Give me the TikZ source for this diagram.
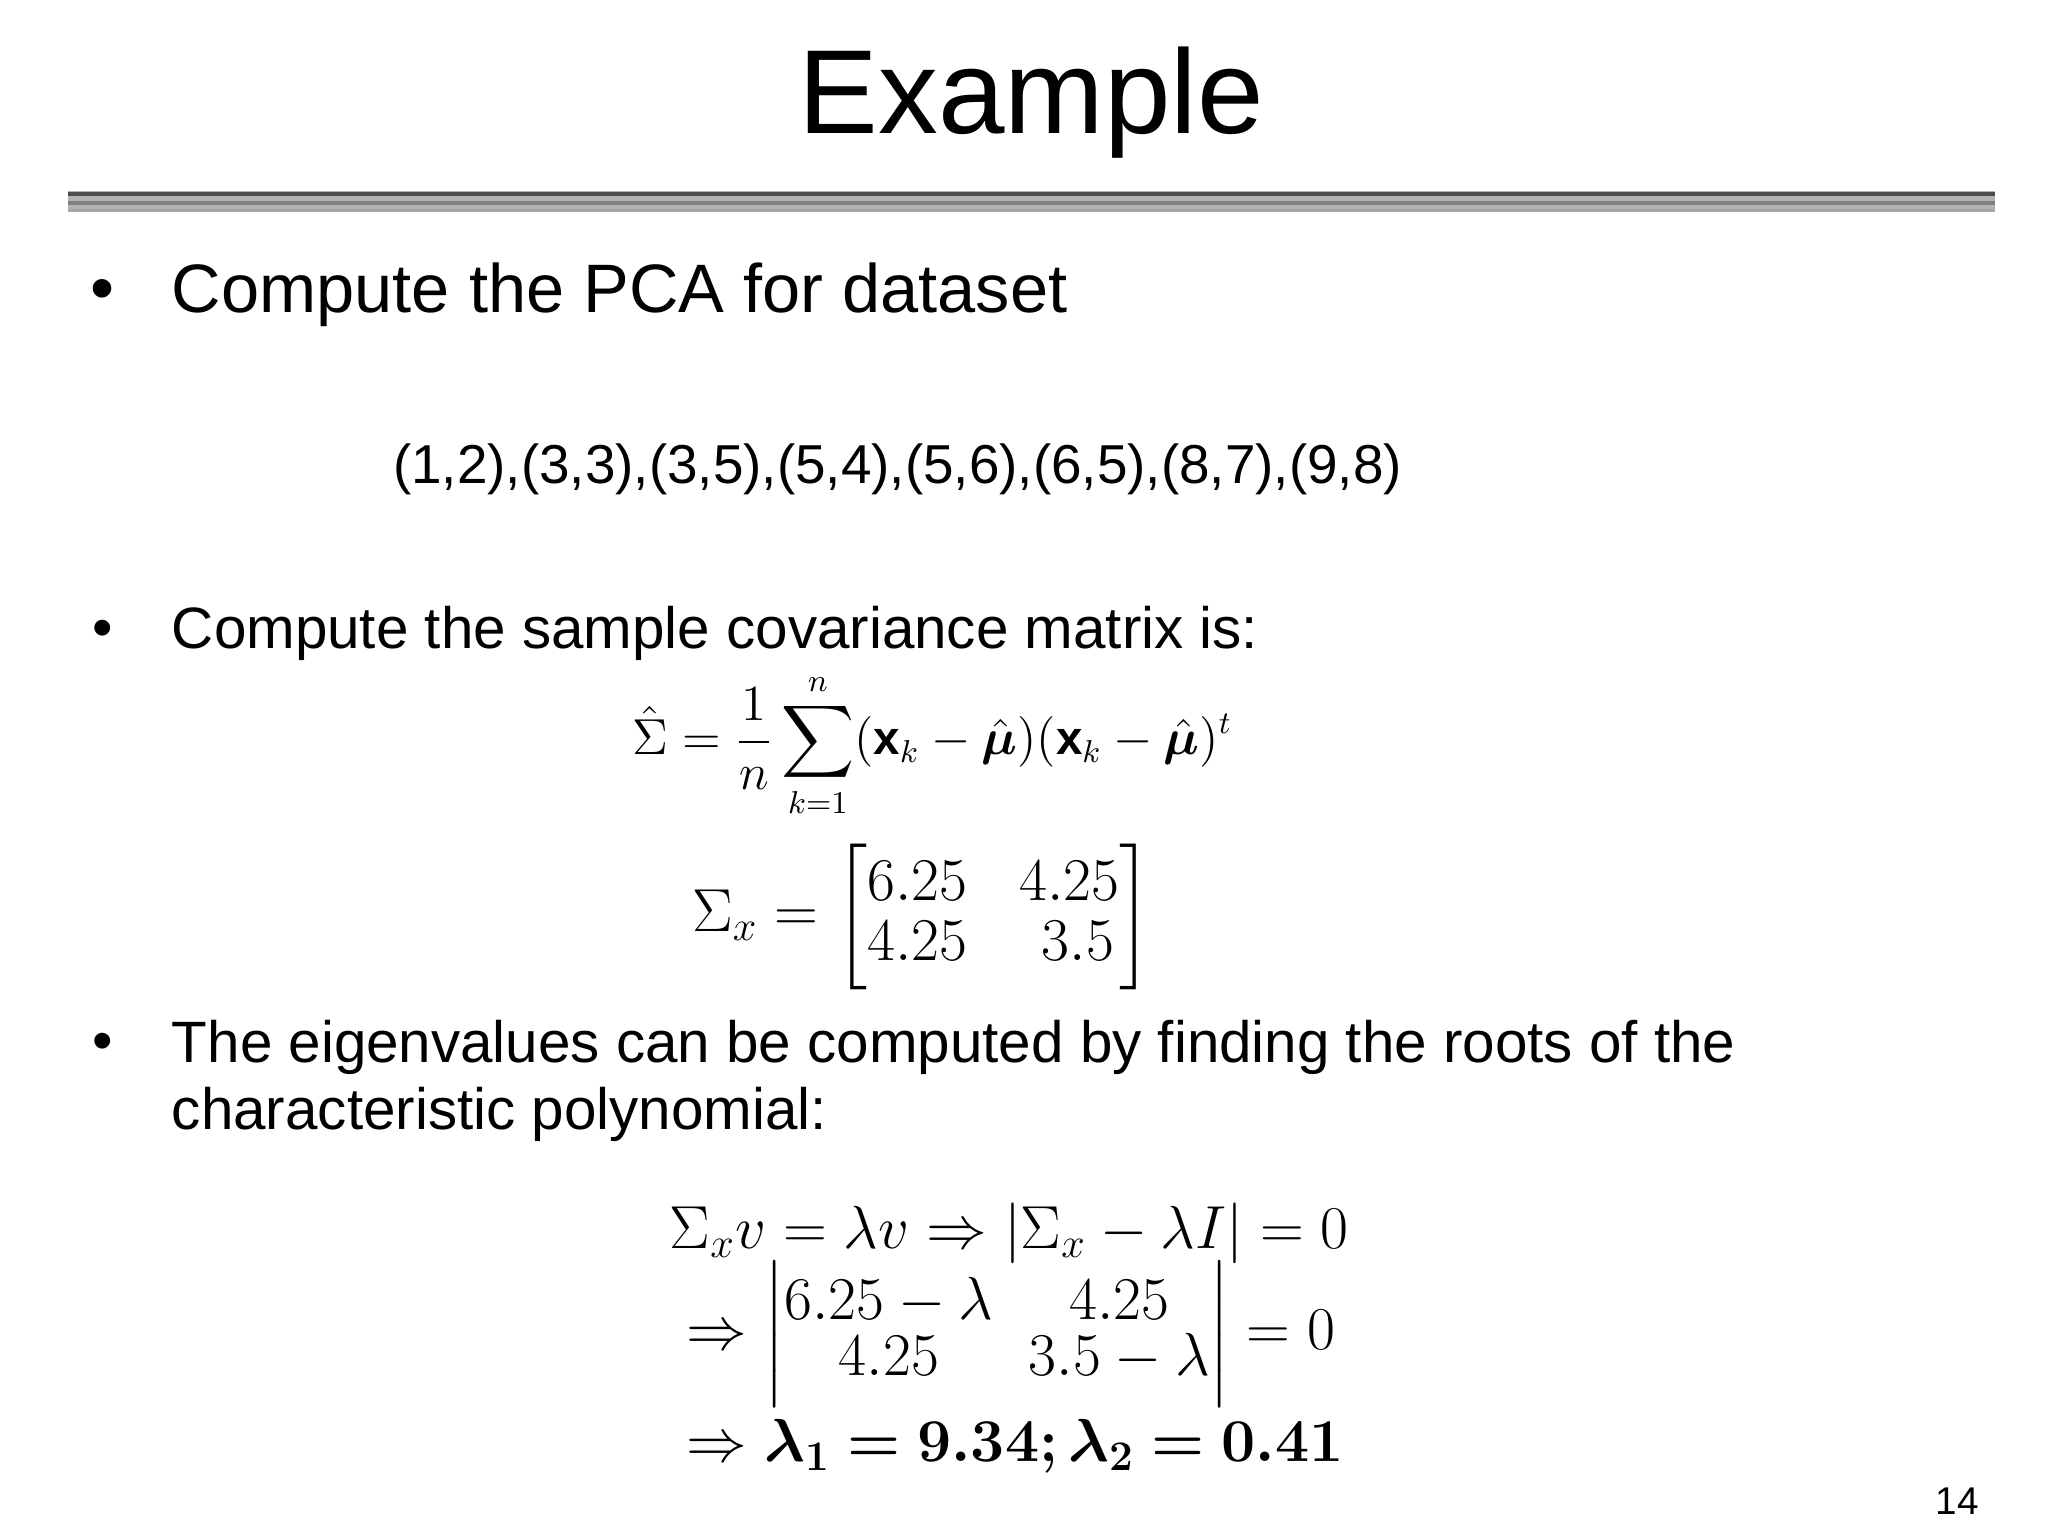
\documentclass[tikz,border=0pt]{standalone}
\usepackage{amsmath,bm}
\usepackage{fontspec}
\setmainfont{Liberation Sans}
\begin{document}
\begin{tikzpicture}[x=0.01317cm,y=-0.01317cm,
  txt/.style={anchor=west,inner sep=0pt,font=\fontsize{16.6}{20}\selectfont},
  bul/.style={inner sep=0pt,font=\fontsize{16.6}{20}\selectfont}]
\useasboundingbox[fill=white] (0,0) rectangle (1555,1166);
\node[inner sep=0pt,font=\fontsize{34}{38}\selectfont] (title) at (783,78) {Example};
\fill[gray!60] (52,145) rectangle (1515,161);
\draw[black!70,line width=1.2pt] (52,147) -- (1515,147);
\draw[black!50,line width=1pt] (52,154) -- (1515,154);
\draw[gray!70,line width=0.8pt] (52,160) -- (1515,160);
\node[bul,font=\fontsize{19.5}{23}\selectfont] (b1) at (78,224) {•};
\node[txt,font=\fontsize{19.5}{23}\selectfont] (t1) at (130,224) {Compute the PCA for dataset};
\node[txt,font=\fontsize{15.6}{19}\selectfont] (data) at (298,356) {(1,2),(3,3),(3,5),(5,4),(5,6),(6,5),(8,7),(9,8)};
\node[bul] (b2) at (78,481) {•};
\node[txt] (t2) at (130,481) {Compute the sample covariance matrix is:};
\node[inner sep=0pt,font=\fontsize{13.5}{16}\selectfont] (f1) at (708,566)
  {$\hat{\Sigma}=\dfrac{1}{n}\displaystyle\sum_{k=1}^{n}(\mathbf{x}_k-\hat{\bm{\mu}})(\mathbf{x}_k-\hat{\bm{\mu}})^t$};
\node[inner sep=0pt,font=\fontsize{17}{20}\selectfont] (m1) at (700,696)
  {$\Sigma_x=\begin{bmatrix}6.25 & \ 4.25\\[-3pt] 4.25 & \ \ 3.5\end{bmatrix}$};
\node[bul] (b3) at (78,795) {•};
\node[txt] (t3) at (130,795) {The eigenvalues can be computed by finding the roots of the};
\node[txt] (t4) at (130,846) {characteristic polynomial:};
\node[anchor=north west,inner sep=0pt,font=\fontsize{16.5}{19}\selectfont] (eq) at (508,912)
  {$\begin{aligned}
  &\Sigma_x v=\lambda v\Rightarrow|\Sigma_x-\lambda I|=0\\[-6pt]
  &\Rightarrow\begin{vmatrix}6.25-\lambda & 4.25\\[-3pt] 4.25 & 3.5-\lambda\end{vmatrix}=0\\[-2pt]
  &\Rightarrow\bm{\lambda_1=9.34;\lambda_2=0.41}
  \end{aligned}$};
\node[inner sep=0pt,font=\fontsize{11}{13}\selectfont] (pg) at (1486,1140) {14};
\end{tikzpicture}
\end{document}
